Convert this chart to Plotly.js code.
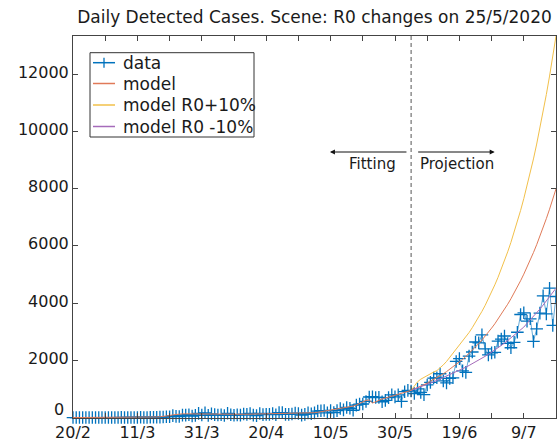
<!DOCTYPE html>
<html>
<head>
<meta charset="utf-8">
<script src="https://cdn.plot.ly/plotly-3.0.1.min.js"></script>
<style>html,body{margin:0;padding:0;background:#fff;}#chart{width:557px;height:442px;}</style>
</head>
<body>
<div id="chart"></div>
<script>
// ---- data (daily, starting 20/2/2020) ----
const startDate = '2020-02-20';
const fitEndDate = '2020-06-04';
const dataCases = [
0,0,0,0,0,0,0,0,0,0,
0,0,1,0,1,6,1,3,5,2,
2,12,3,3,11,11,9,14,18,30,
30,67,41,36,86,87,101,55,75,146,
88,167,78,132,102,89,98,74,150,96,
83,94,86,123,113,143,87,67,144,102,
111,112,144,100,172,172,111,111,124,158,
143,85,111,164,133,165,228,240,245,164,
248,175,244,316,269,352,323,255,436,472,
474,564,718,729,701,704,552,600,697,795,
723,795,564,904,949,929,840,1000,880,800,
1140,1230,1380,1390,1530,1280,1210,1370,1390,1960,
2060,1630,1580,2150,2290,2640,2610,2890,2400,2190,
2260,2280,2670,2740,2850,2590,2440,2630,2980,3600,
3660,3370,3450,2660,3100,3650,4250,3620,4520,3220,
4230
];
const modelBase = [
0,0,0,0,0,0,0,0,0,0,
0,0,0,0,0,0,0,0,0,0,
3,5,8,10,14,18,22,28,36,50,
70,95,115,125,130,130,128,126,125,125,
126,127,128,128,127,125,122,118,115,113,
112,112,113,115,117,120,122,124,126,128,
130,132,134,137,140,143,145,146,146,145,
144,143,145,150,158,170,185,205,230,250,
265,280,295,315,335,350,370,400,440,490,
545,600,615,510,550,610,650,680,710,740,
770,800,840,880,915,950,995,1045,1095,1150,
1205,1265,1325,1390,1460,1530,1605,1685,1765,1850,
1940,2035,2135,2240,2350,2465,2585,2710,2840,2980,
3125,3275,3435,3600,3775,3960,4150,4350,4560,4780,
5010,5250,5500,5765,6040,6330,6630,6950,7280,7630,
7990
];
// projections start on fitEndDate
const modelPlus = [
950,1120,1250,1340,1410,1470,1530,1590,1640,1730,
1840,1960,2100,2250,2380,2515,2660,2810,2970,3140,
3320,3510,3710,3920,4150,4385,4635,4900,5180,5480,
5790,6120,6470,6840,7235,7650,8085,8550,9035,9555,
10100,10675,11285,11930,12610,13330
];
const modelMinus = [
950,990,1030,1070,1110,1160,1200,1250,1300,1350,
1390,1440,1490,1540,1590,1650,1700,1760,1820,1880,
1940,2000,2070,2140,2210,2280,2360,2440,2520,2600,
2690,2780,2870,2960,3060,3160,3290,3410,3530,3660,
3790,3930,4070,4220,4370,4520
];
const seriesNames = ['data','model','model R0+10%','model R0 -10%'];
const xTickLabels = ['20/2','','11/3','','31/3','','20/4','','10/5','','30/5','','19/6','','9/7',''];
const yTickValues = [0,2000,4000,6000,8000,10000,12000];
const titleText = 'Daily Detected Cases. Scene: R0 changes on 25/5/2020';

// ---- helpers ----
const t0 = Date.parse(startDate + 'T00:00:00Z');
function dayStr(i){ return new Date(t0 + i*86400000).toISOString().slice(0,10); }
function dayIndex(s){ return Math.round((Date.parse(s+'T00:00:00Z') - t0)/86400000); }
const xData = dataCases.map((_, i) => dayStr(i));
const xModel = modelBase.map((_, i) => dayStr(i));
const fitIdx = dayIndex(fitEndDate);
const xProj = modelPlus.map((_, i) => dayStr(fitIdx + i));
const lastIdx = modelBase.length - 1;
const xTickVals = xTickLabels.map((_, i) => dayStr(i*10));

const font = 'DejaVu Sans, sans-serif';
const txtColor = '#1a1a1a';
const colors = ['#0072BD', '#E07A58', '#F2C04A', '#A56BBA'];

const traces = [
  {x: xData, y: dataCases, name: seriesNames[0], type: 'scatter', mode: 'lines+markers',
   line: {color: 'rgba(0,114,189,0.6)', width: 1},
   marker: {symbol: 'cross-thin', size: 9, line: {color: colors[0], width: 1.3}, color: colors[0]},
   cliponaxis: false},
  {x: xModel, y: modelBase, name: seriesNames[1], type: 'scatter', mode: 'lines',
   line: {color: colors[1], width: 1}},
  {x: xProj, y: modelPlus, name: seriesNames[2], type: 'scatter', mode: 'lines',
   line: {color: colors[2], width: 1}},
  {x: xProj, y: modelMinus, name: seriesNames[3], type: 'scatter', mode: 'lines',
   line: {color: colors[3], width: 1}}
];

// ---- legend box (drawn in paper coordinates of the plot area) ----
const plotL = 73, plotR = 556, plotT = 36, plotB = 418;
const px = v => (v - plotL) / (plotR - plotL);
const py = v => (plotB - v) / (plotB - plotT);
const legRows = [62.7, 83.5, 105, 126.5];
const shapes = [
  {type: 'line', xref: 'x', yref: 'paper', x0: fitEndDate, x1: fitEndDate, y0: 0, y1: 1.008,
   line: {color: '#555', width: 1, dash: '4px,3px'}},
  {type: 'rect', xref: 'paper', yref: 'paper', x0: px(90), x1: px(254), y0: py(137), y1: py(52.7),
   line: {color: '#333', width: 1}, fillcolor: '#fff', layer: 'above'}
];
const annotations = [
  {xref: 'paper', yref: 'paper', x: 0.532, y: py(152), ax: 78, ay: 0, text: '', showarrow: true,
   arrowhead: 2, arrowsize: 1, arrowwidth: 1, arrowcolor: '#111'},
  {xref: 'paper', yref: 'paper', x: 0.873, y: py(152), ax: -78, ay: 0, text: '', showarrow: true,
   arrowhead: 2, arrowsize: 1, arrowwidth: 1, arrowcolor: '#111'},
  {xref: 'paper', yref: 'paper', x: px(398), y: py(164), xanchor: 'right', yanchor: 'middle',
   text: 'Fitting', showarrow: false, font: {family: font, size: 15, color: txtColor}},
  {xref: 'paper', yref: 'paper', x: px(418), y: py(164), xanchor: 'left', yanchor: 'middle',
   text: 'Projection', showarrow: false, font: {family: font, size: 15, color: txtColor}},
  {xref: 'paper', yref: 'paper', x: px(66), y: py(409), xanchor: 'right', yanchor: 'middle',
   text: String(yTickValues[0]), showarrow: false, font: {family: font, size: 16, color: txtColor}}
];
seriesNames.forEach((name, i) => {
  const yy = py(legRows[i]);
  shapes.push({type: 'line', xref: 'paper', yref: 'paper', x0: px(93), x1: px(115), y0: yy, y1: yy,
               line: {color: colors[i], width: 1.5}, layer: 'above'});
  if (i === 0) {
    shapes.push({type: 'line', xref: 'paper', yref: 'paper', x0: px(104), x1: px(104),
                 y0: py(legRows[i] + 5), y1: py(legRows[i] - 5),
                 line: {color: colors[i], width: 1.3}, layer: 'above'});
  }
  annotations.push({xref: 'paper', yref: 'paper', x: px(121), y: yy, xanchor: 'left', yanchor: 'middle',
                    text: name, showarrow: false, font: {family: font, size: 17, color: txtColor}});
});

const layout = {
  width: 557, height: 442,
  margin: {l: plotL, r: 557 - plotR, t: plotT, b: 442 - plotB, pad: 0},
  paper_bgcolor: '#fff', plot_bgcolor: '#fff',
  font: {family: font, size: 16, color: txtColor},
  title: {text: titleText, font: {family: font, size: 17, color: txtColor},
          x: 0.5, xref: 'paper', xanchor: 'center', y: 0.962, yref: 'container', yanchor: 'middle'},
  showlegend: false,
  xaxis: {type: 'date', range: [dayStr(0), dayStr(lastIdx)], tickvals: xTickVals, ticktext: xTickLabels,
          ticks: 'inside', ticklen: 5, tickwidth: 1, tickcolor: '#444', mirror: 'ticks',
          showline: true, linecolor: '#444', linewidth: 1, showgrid: false, zeroline: false,
          tickfont: {family: font, size: 16, color: txtColor}, fixedrange: true},
  yaxis: {range: [-15, 13330], tickvals: yTickValues,
          ticktext: yTickValues.map((v, i) => i === 0 ? '' : String(v)),
          ticks: 'inside', ticklen: 5, tickwidth: 1, tickcolor: '#444', mirror: 'ticks',
          showline: true, linecolor: '#444', linewidth: 1, showgrid: false, zeroline: false,
          ticklabelshift: -2,
          tickfont: {family: font, size: 16, color: txtColor}, fixedrange: true},
  shapes: shapes,
  annotations: annotations
};

Plotly.newPlot('chart', traces, layout, {staticPlot: true, displayModeBar: false});
</script>
</body>
</html>
